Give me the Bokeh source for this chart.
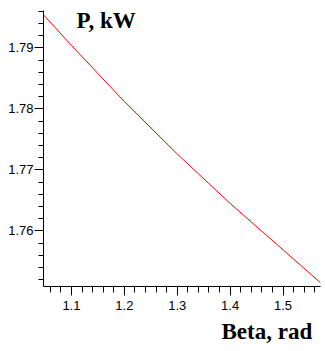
import math
from bokeh.plotting import figure
from bokeh.models import Range1d, SingleIntervalTicker, Label, Title
from bokeh.embed import file_html
from bokeh.resources import INLINE

beta = [math.pi / 3, 1.1, 1.2, 1.3, 1.4, 1.5, math.pi / 2]
power = [1.7954, 1.7904, 1.7812, 1.7726, 1.7645, 1.7569, 1.7515]

x_label = "Beta, rad"
y_label = "P, kW"

W, H = 325, 351
p = figure(width=W, height=H, output_backend="svg", toolbar_location=None,
           x_range=Range1d(math.pi / 3, math.pi / 2),
           y_range=Range1d(1.75089, 1.79612),
           min_border_left=43, min_border_right=5, min_border_top=10,
           min_border_bottom=65)
p.outline_line_color = None
p.xgrid.visible = False
p.ygrid.visible = False
p.background_fill_color = "white"
p.border_fill_color = "white"

p.line(beta, power, line_color="#ff0000", line_width=1)

p.xaxis.ticker = SingleIntervalTicker(interval=0.1, num_minor_ticks=5)
p.yaxis.ticker = SingleIntervalTicker(interval=0.01, num_minor_ticks=5)
for ax in (p.xaxis, p.yaxis):
    ax.axis_line_color = "black"
    ax.major_tick_line_color = "black"
    ax.minor_tick_line_color = "black"
    ax.major_tick_in = 0
    ax.minor_tick_in = 0
    ax.major_label_text_font = "Liberation Sans"
    ax.major_label_text_font_size = "13px"
    ax.major_label_text_color = "black"
p.yaxis.major_tick_out = 9
p.yaxis.minor_tick_out = 5
p.yaxis.major_label_standoff = 1
p.xaxis.major_tick_out = 9
p.xaxis.minor_tick_out = 6
p.xaxis.major_label_standoff = 5
p.xaxis.formatter.use_scientific = False

# y-axis caption inside the frame (screen units from frame bottom-left)
p.add_layout(Label(x=33, y=266, x_units="screen", y_units="screen",
                   text=y_label, text_font="Liberation Serif",
                   text_font_style="bold", text_font_size="23px",
                   text_color="black", text_baseline="alphabetic"))
# x-axis caption below the axis
p.add_layout(Title(text=x_label, align="left", offset=178, standoff=9,
                   text_font="Liberation Serif", text_font_style="bold",
                   text_font_size="23px", text_color="black"), "below")

open("out.html", "w").write(file_html(p, INLINE))
